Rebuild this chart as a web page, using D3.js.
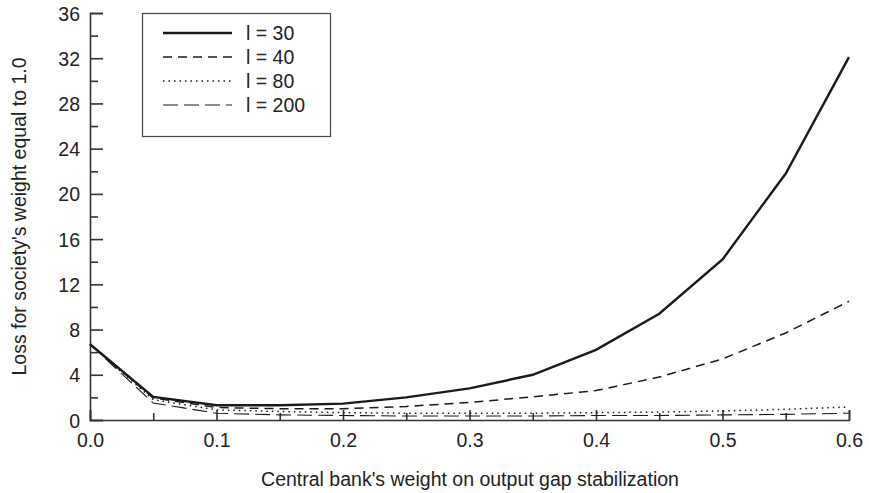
<!DOCTYPE html>
<html>
<head>
<meta charset="utf-8">
<script src="https://cdn.jsdelivr.net/npm/d3@7"></script>
<style>
  body { margin: 0; background: #fff; }
  text { font-family: "Liberation Sans", Arial, sans-serif; fill: #222; }
</style>
</head>
<body>
<div id="chart"></div>
<script>
// weights on output gap stabilization
const weights = [0, 0.05, 0.1, 0.15, 0.2, 0.25, 0.3, 0.35, 0.4, 0.45, 0.5, 0.55, 0.6];

const loss30 = [6.7, 2.05, 1.3, 1.3, 1.45, 2.0, 2.8, 4.0, 6.2, 9.4, 14.2, 21.8, 32.1];
const loss40 = [6.7, 1.95, 1.1, 1.0, 1.0, 1.2, 1.55, 2.05, 2.6, 3.8, 5.4, 7.7, 10.5];
const loss80 = [6.7, 1.8, 0.9, 0.75, 0.65, 0.6, 0.6, 0.6, 0.65, 0.7, 0.8, 0.95, 1.15];
const loss200 = [6.7, 1.5, 0.6, 0.45, 0.4, 0.35, 0.35, 0.35, 0.4, 0.4, 0.45, 0.5, 0.6];

const seriesLabels = ['l = 30', 'l = 40', 'l = 80', 'l = 200'];
const xTicks = [0, 0.1, 0.2, 0.3, 0.4, 0.5, 0.6];
const yTicks = [0, 4, 8, 12, 16, 20, 24, 28, 32, 36];

const width = 869;
const height = 493;
const margin = { top: 13, right: 19, bottom: 73, left: 90 };
const fontSize = '19.5px';

const styles = [
    { width: 2.4, dash: null },
    { width: 1.5, dash: '9,6' },
    { width: 1.5, dash: '1.5,4' },
    { width: 1.1, dash: '15,6' }
];
const series = [loss30, loss40, loss80, loss200];

const svg = d3.select('#chart')
  .append('svg')
    .attr('width', width)
    .attr('height', height);

const x = d3.scaleLinear()
    .domain([0, 0.6])
    .range([margin.left, width - margin.right - 1]);

const y = d3.scaleLinear()
    .domain([0, 36])
    .range([height - margin.bottom, margin.top]);

// y axis, ticks pointing inward
const yAxis = svg.append('g')
    .attr('transform', `translate(${margin.left},0)`)
    .call(d3.axisRight(y).tickValues(yTicks).tickSize(13).tickFormat(''));
yAxis.selectAll('.tick')
  .append('text')
    .attr('x', -10)
    .attr('dy', '0.36em')
    .attr('text-anchor', 'end')
    .style('font-size', fontSize)
    .text(d => d);
svg.append('g')
    .attr('transform', `translate(${margin.left},0)`)
    .call(d3.axisRight(y).tickValues(d3.range(2, 36, 4)).tickSize(8).tickFormat(''))
    .call(g => g.select('.domain').remove());

// x axis, ticks pointing up
const xAxis = svg.append('g')
    .attr('transform', `translate(0,${y(0)})`)
    .call(d3.axisTop(x).tickValues(xTicks).tickSize(10).tickFormat(''));
xAxis.selectAll('.tick')
  .append('text')
    .attr('y', 27)
    .attr('text-anchor', 'middle')
    .style('font-size', fontSize)
    .text(d => d3.format('.1f')(d));
svg.append('g')
    .attr('transform', `translate(0,${y(0)})`)
    .call(d3.axisTop(x).tickValues(d3.range(0.05, 0.6, 0.1)).tickSize(7).tickFormat(''))
    .call(g => g.select('.domain').remove());

svg.selectAll('.domain, .tick line')
    .attr('stroke', '#333')
    .attr('stroke-width', 1.6);

// lines
const line = d3.line()
    .x((d, i) => x(weights[i]))
    .y(d => y(d));

svg.append('g')
  .selectAll('path')
  .data(series)
  .join('path')
    .attr('d', line)
    .attr('fill', 'none')
    .attr('stroke', '#1a1a1a')
    .attr('stroke-width', (d, i) => styles[i].width)
    .attr('stroke-dasharray', (d, i) => styles[i].dash);

// legend
const legend = svg.append('g');
legend.append('rect')
    .attr('x', 142.5)
    .attr('y', 13.5)
    .attr('width', 188)
    .attr('height', 123)
    .attr('fill', '#fff')
    .attr('stroke', '#444')
    .attr('stroke-width', 1.2);

const items = legend.selectAll('.item')
  .data(seriesLabels)
  .join('g')
    .attr('class', 'item')
    .attr('transform', (d, i) => `translate(0,${33 + i * 24})`);
items.append('line')
    .attr('x1', 163)
    .attr('x2', 232)
    .attr('stroke', '#1a1a1a')
    .attr('stroke-width', (d, i) => styles[i].width)
    .attr('stroke-dasharray', (d, i) => styles[i].dash);
items.append('text')
    .attr('x', 246)
    .attr('dy', '0.36em')
    .style('font-size', fontSize)
    .text(d => d);

// axis titles
svg.append('text')
    .attr('x', (margin.left + width - margin.right) / 2)
    .attr('y', 486)
    .attr('text-anchor', 'middle')
    .style('font-size', fontSize)
    .text("Central bank's weight on output gap stabilization");

svg.append('text')
    .attr('transform', `translate(26,${(margin.top + y(0)) / 2}) rotate(-90)`)
    .attr('text-anchor', 'middle')
    .style('font-size', fontSize)
    .text("Loss for society's weight equal to 1.0");
</script>
</body>
</html>
